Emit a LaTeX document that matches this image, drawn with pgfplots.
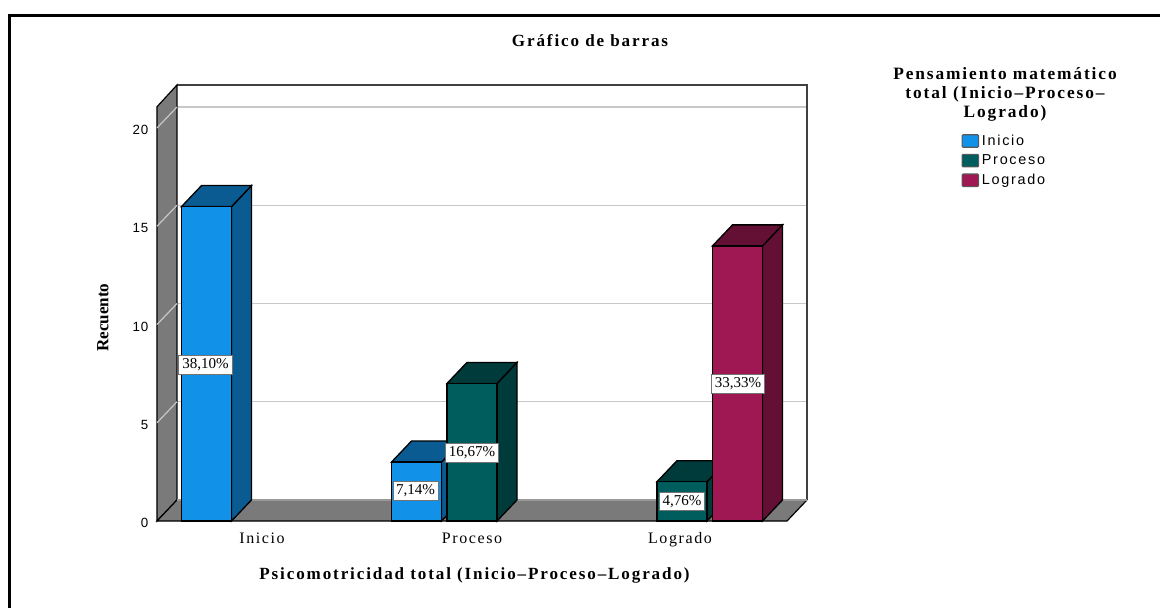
\documentclass[border=0pt]{standalone}
\usepackage{fontspec}
\setmainfont{Liberation Sans}
\usepackage{pgfplots}
\pgfplotsset{compat=1.18}
\newfontfamily\sansls[LetterSpace=12]{Liberation Sans}
\newfontfamily\sanst[LetterSpace=6]{Liberation Sans}
\newfontfamily\serifls[LetterSpace=10]{Liberation Serif}
\newfontfamily\serifb[LetterSpace=11]{Liberation Serif Bold}
\newfontfamily\serifbn{Liberation Serif Bold}
\newfontfamily\serifn{Liberation Serif}
\definecolor{cIni}{HTML}{1192E8}\definecolor{dIni}{HTML}{0B5B93}
\definecolor{cPro}{HTML}{005D5D}\definecolor{dPro}{HTML}{003B3B}
\definecolor{cLog}{HTML}{9F1853}\definecolor{dLog}{HTML}{640F34}
\definecolor{wall}{HTML}{7A7A7A}\definecolor{gridc}{HTML}{C8C8C8}
\begin{document}
\begin{tikzpicture}[x=1pt,y=1pt,
  lab/.style={fill=white,draw=black!55,line width=0.5pt,inner sep=0.5pt,minimum height=14.2pt,minimum width=40pt,font=\serifn\fontsize{11.3}{12}\selectfont}]
\begin{axis}[
  scale only axis, width=472.5pt, height=310.97pt,
  xmin=157, xmax=787, ymin=0, ymax=21.1, clip=false,
  axis line style={draw=none}, tick style={draw=none},
  xtick={262,472,680}, xticklabels={Inicio,Proceso,Logrado},
  ytick={0,5,10,15,20},
  /pgf/number format/assume math mode=true,
  xticklabel style={font=\serifls\fontsize{12}{12}\selectfont, text height=8.5pt, text depth=2.5pt, yshift=-4.5pt},
  yticklabel style={font=\sanst\fontsize{10}{11}\selectfont, xshift=-3pt, yshift=-1.5pt},
  legend style={at={(axis cs:961.5,19.79)},anchor=north west,draw=none,fill=none,
    font=\sansls\fontsize{10.8}{12}\selectfont,row sep=1.6pt,inner sep=0pt,outer sep=0pt},
  legend cell align=left,
  legend image code/.code={\draw[#1,draw=black!65,line width=0.8pt,rounded corners=0.8pt] (0pt,-4.7pt) rectangle (12.5pt,4.7pt);},
]
% page
\path (axis cs:0,-4.427) rectangle (axis cs:1160,26.514);
\fill[black] (axis cs:8,-4.427) rectangle (axis cs:11,25.80);
\fill[black] (axis cs:8,25.80) rectangle (axis cs:1160,25.65);
% legend entries
\addlegendimage{fill=cIni}\addlegendentry{Inicio}
\addlegendimage{fill=cPro}\addlegendentry{Proceso}
\addlegendimage{fill=cLog}\addlegendentry{Logrado}
% back wall
\addplot[forget plot,fill=white,draw=none] coordinates {(177,1.07)(807,1.07)(807,22.19)(177,22.19)} -- cycle;
% grid lines, back wall
\addplot[forget plot,gridc,line width=0.9pt] coordinates {(177,6.07)(807,6.07)};
\addplot[forget plot,gridc,line width=0.9pt] coordinates {(177,11.07)(807,11.07)};
\addplot[forget plot,gridc,line width=0.9pt] coordinates {(177,16.07)(807,16.07)};
\addplot[forget plot,gridc,line width=0.9pt] coordinates {(177,21.07)(807,21.07)};
% walls and floor
\addplot[forget plot,black!75,line width=1.1pt] coordinates {(177,22.19)(807,22.19)(807,1.07)};
\addplot[forget plot,fill=wall,draw=black,line width=0.9pt] coordinates {(157,0)(177,1.07)(177,22.19)(157,21.08)} -- cycle;
\addplot[forget plot,gridc,line width=0.9pt] coordinates {(157,5)(177,6.07)};
\addplot[forget plot,gridc,line width=0.9pt] coordinates {(157,10)(177,11.07)};
\addplot[forget plot,gridc,line width=0.9pt] coordinates {(157,15)(177,16.07)};
\addplot[forget plot,gridc,line width=0.9pt] coordinates {(157,20)(177,21.07)};
\addplot[forget plot,fill=wall,draw=none] coordinates {(157,0)(787,0)(807,1.07)(177,1.07)} -- cycle;
\addplot[forget plot,black,line width=0.9pt] coordinates {(807,1.07)(787,0)(157,0)(177,1.07)};
\addplot[forget plot,black!40,line width=0.8pt] coordinates {(177,1.07)(807,1.07)};
% Inicio series
\addplot[forget plot,fill=dIni,draw=black,line width=1pt] coordinates {(231.5,0)(251.5,1.07)(251.5,17.07)(231.5,16)} -- cycle;
\addplot[forget plot,fill=dIni,draw=black,line width=1pt] coordinates {(181.5,16)(231.5,16)(251.5,17.07)(201.5,17.07)} -- cycle;
\addplot[forget plot,fill=dIni,draw=black,line width=1pt] coordinates {(441.5,0)(461.5,1.07)(461.5,4.07)(441.5,3)} -- cycle;
\addplot[forget plot,fill=dIni,draw=black,line width=1pt] coordinates {(391.5,3)(441.5,3)(461.5,4.07)(411.5,4.07)} -- cycle;
\addplot[forget plot,ybar,bar width=50,bar shift=0pt,fill=cIni,draw=black,line width=1pt] coordinates {(206.5,16)(416.5,3)};
% Proceso series
\addplot[forget plot,fill=dPro,draw=black,line width=1pt] coordinates {(497,0)(517,1.07)(517,8.07)(497,7)} -- cycle;
\addplot[forget plot,fill=dPro,draw=black,line width=1pt] coordinates {(447,7)(497,7)(517,8.07)(467,8.07)} -- cycle;
\addplot[forget plot,fill=dPro,draw=black,line width=1pt] coordinates {(707,0)(727,1.07)(727,3.07)(707,2)} -- cycle;
\addplot[forget plot,fill=dPro,draw=black,line width=1pt] coordinates {(657,2)(707,2)(727,3.07)(677,3.07)} -- cycle;
\addplot[forget plot,ybar,bar width=50,bar shift=0pt,fill=cPro,draw=black,line width=1pt] coordinates {(472,7)(682,2)};
% Logrado series
\addplot[forget plot,fill=dLog,draw=black,line width=1pt] coordinates {(762.5,0)(782.5,1.07)(782.5,15.07)(762.5,14)} -- cycle;
\addplot[forget plot,fill=dLog,draw=black,line width=1pt] coordinates {(712.5,14)(762.5,14)(782.5,15.07)(732.5,15.07)} -- cycle;
\addplot[forget plot,ybar,bar width=50,bar shift=0pt,fill=cLog,draw=black,line width=1pt] coordinates {(737.5,14)};
% data labels
\node[lab] at (axis cs:205.5,7.95) {38,10\%};
\node[lab,minimum width=34pt] at (axis cs:415.5,1.53) {7,14\%};
\node[lab] at (axis cs:472,3.48) {16,67\%};
\node[lab,minimum width=34pt] at (axis cs:682,1.0) {4,76\%};
\node[lab] at (axis cs:738,7) {33,33\%};
% text
\node[font=\serifb\fontsize{12.8}{14}\selectfont] at (axis cs:590,24.43) {Gráfico de barras};
\node[font=\serifb\fontsize{12.8}{14}\selectfont] at (axis cs:474.5,-2.76) {Psicomotricidad total (Inicio–Proceso–Logrado)};
\node[rotate=90,font=\serifbn\fontsize{12.8}{14}\selectfont] at (axis cs:103,10.35) {Recuento};
\node[font=\serifb\fontsize{13}{14.25}\selectfont,align=center] at (axis cs:1005,21.7) {Pensamiento matemático\\total (Inicio–Proceso–\\Logrado)};
\end{axis}
\end{tikzpicture}
\end{document}
